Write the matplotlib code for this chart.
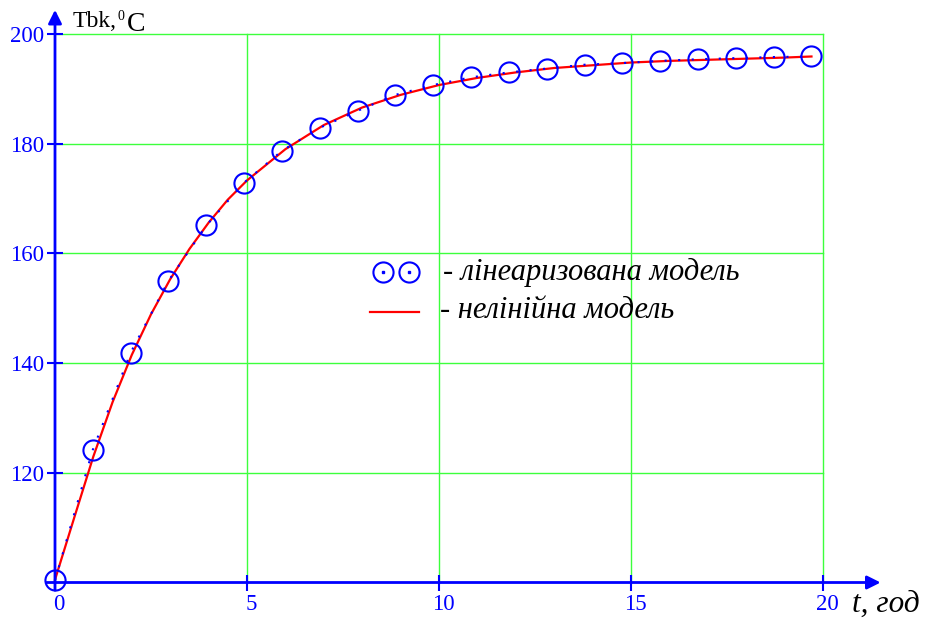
import numpy as np
import matplotlib
matplotlib.use("Agg")
import matplotlib.pyplot as plt
import matplotlib.transforms as mtransforms

plt.rcParams['font.family'] = ['Liberation Serif', 'DejaVu Serif']

# time grid of the linearised model (hours)
t_lin = np.arange(21) * 0.985
T_lin = [100.4, 124.2, 141.9, 155.0, 165.1, 172.9, 178.7, 182.9, 186.0, 188.9,
         190.7, 192.1, 193.0, 193.7, 194.4, 194.7, 195.1, 195.4, 195.6, 195.8, 195.9]

# nonlinear model
t_nl = [0, 0.5, 1, 1.5, 2, 2.5, 3, 3.5, 4, 4.5, 5, 6, 7, 8, 9, 10, 11, 12, 13,
        14, 15, 16, 17, 18, 19, 19.7]
T_nl = [100.5, 111.8, 123.0, 132.9, 141.5, 148.9, 155.3, 160.8, 165.6, 169.8,
        173.3, 179.0, 183.4, 186.6, 188.9, 190.7, 192.0, 193.0, 193.8, 194.3,
        194.8, 195.1, 195.3, 195.5, 195.7, 195.9]

x_ticks = [0, 5, 10, 15, 20]
y_ticks = [120, 140, 160, 180, 200]

W, H = 925, 618
fig = plt.figure(figsize=(W / 100, H / 100), dpi=100)
fx = lambda px: px / W
fy = lambda py: 1 - py / H

x0, x1, y0, y1 = 55, 823, 34, 582.5
ax = fig.add_axes([fx(x0), fy(y1), fx(x1) - fx(x0), fy(y0) - fy(y1)])
ax.set_xlim(0, 20)
ax.set_ylim(100, 200)
for s in ax.spines.values():
    s.set_visible(False)

grid_c = '#3cff3c'
for xv in x_ticks[1:]:
    ax.plot([xv, xv], [100, 200], color=grid_c, lw=1.0, clip_on=False, zorder=1)
for yv in y_ticks:
    ax.plot([0, 20], [yv, yv], color=grid_c, lw=1.0, clip_on=False, zorder=1)

blue = '#0000ff'
# axes with arrow heads
ax.annotate('', xy=(21.5, 100), xytext=(-0.22, 100), annotation_clip=False,
            arrowprops=dict(arrowstyle='-|>', color=blue, lw=2, mutation_scale=20,
                            shrinkA=0, shrinkB=0), zorder=5)
ax.annotate('', xy=(0, 204.4), xytext=(0, 98.6), annotation_clip=False,
            arrowprops=dict(arrowstyle='-|>', color=blue, lw=2, mutation_scale=20,
                            shrinkA=0, shrinkB=0), zorder=5)

ax.set_xticks(x_ticks)
ax.set_yticks(y_ticks)
ax.tick_params(direction='inout', length=12, width=1.5, color=blue,
               labelcolor=blue, labelsize=16.5, pad=2)
shift = mtransforms.ScaledTranslation(4 / 100, 0, fig.dpi_scale_trans)
for lab in ax.get_xticklabels():
    lab.set_transform(lab.get_transform() + shift)

# curves
ax.plot(t_nl, T_nl, color='red', lw=1.6, zorder=3, clip_on=False)
ax.plot(t_lin, T_lin, color=blue, lw=1.5, linestyle=(0, (1, 5.5)), zorder=4,
        clip_on=False)
ax.plot(t_lin, T_lin, linestyle='none', marker='o', ms=14.5, mfc='none',
        mec=blue, mew=1.5, zorder=4, clip_on=False)

# axis captions
fig.text(fx(73), fy(27), 'Tbk,', fontsize=17, ha='left', va='baseline')
fig.text(fx(118), fy(20), '0', fontsize=10, ha='left', va='baseline')
fig.text(fx(127), fy(31), 'C', fontsize=20, ha='left', va='baseline')
fig.text(fx(852), fy(612), 't, год', fontsize=22.5, style='italic',
         ha='left', va='baseline')

# legend
for lx in (383, 409):
    fig.lines.append(plt.Line2D([fx(lx)], [fy(272)], transform=fig.transFigure,
                                marker='o', ms=14.5, mfc='none', mec=blue, mew=1.5))
    fig.lines.append(plt.Line2D([fx(lx)], [fy(272)], transform=fig.transFigure,
                                marker='s', ms=2, mfc=blue, mec=blue))
fig.text(fx(443), fy(280), '- лінеаризована модель', fontsize=22,
         style='italic', ha='left', va='baseline')
fig.lines.append(plt.Line2D([fx(370), fx(419)], [fy(312), fy(312)],
                            transform=fig.transFigure, color='red', lw=1.6))
fig.text(fx(440), fy(318), '- нелінійна модель', fontsize=22,
         style='italic', ha='left', va='baseline')

fig.savefig('out.png', dpi=100)
